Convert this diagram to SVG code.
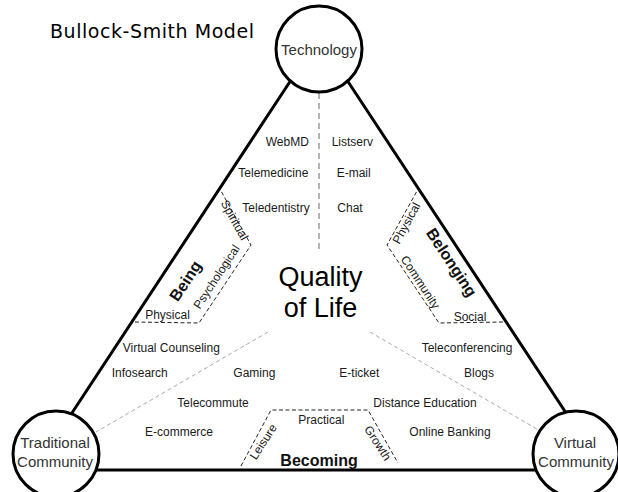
<svg xmlns="http://www.w3.org/2000/svg" width="618" height="492" viewBox="0 0 618 492">
<style>
.side{stroke:#000;stroke-width:3;fill:none;stroke-linecap:round}
.grey{stroke:#a8a8a8;stroke-width:1;fill:none;stroke-dasharray:4 3}
.vgrey{stroke:#b4b4b4;stroke-width:2;fill:none;stroke-dasharray:6 4}
.dom{stroke:#222;stroke-width:1;fill:none;stroke-dasharray:4 2.5}
.node{fill:#fff;stroke:#000;stroke-width:3}
.nt{font-family:"Liberation Sans",Arial,sans-serif;font-size:15px;fill:#333;text-anchor:middle}
.lb{font-family:"Liberation Sans",Arial,sans-serif;font-size:12px;fill:#1a1a1a}
.sub{font-family:"Liberation Sans",Arial,sans-serif;font-size:12px;fill:#1a1a1a;text-anchor:middle}
.dm{font-family:"Liberation Sans",Arial,sans-serif;font-size:16px;font-weight:bold;fill:#111;text-anchor:middle}
.ql{font-family:"Liberation Sans",Arial,sans-serif;font-size:27px;fill:#000;text-anchor:middle}
</style>
<rect width="618" height="492" fill="#fff"/>
<text x="50" y="38" font-family="DejaVu Sans,Verdana,sans-serif" font-size="19" textLength="204" fill="#000">Bullock-Smith Model</text>
<g id="connectors">
<line class="side" x1="295" y1="74" x2="66" y2="422"/>
<line class="side" x1="343" y1="74" x2="572" y2="422"/>
<line class="side" x1="80" y1="470" x2="556" y2="470" stroke-width="3.5"/>
<line class="vgrey" x1="319" y1="93" x2="319" y2="250"/>
<line class="grey" x1="268" y1="332" x2="96" y2="432"/>
<line class="grey" x1="370" y1="332" x2="542" y2="432"/>
</g>
<g id="domain-being">
<polyline class="dom" points="135,322 199,323 251,245 221,191"/>
<text class="dm" transform="translate(190,284) rotate(-56.7)">Being</text>
<text class="sub" transform="translate(167.5,319)">Physical</text>
<text class="sub" transform="translate(220,279) rotate(-56.7)">Psychological</text>
<text class="sub" transform="translate(231,222) rotate(61)">Spiritual</text>
</g>
<g id="domain-belonging">
<polyline class="dom" points="503,322 439,323 387,245 417,191"/>
<text class="dm" transform="translate(447,265.5) rotate(56.7)">Belonging</text>
<text class="sub" transform="translate(470,321)">Social</text>
<text class="sub" transform="translate(417,284.4) rotate(56.7)">Community</text>
<text class="sub" transform="translate(410,225) rotate(-61.5)">Physical</text>
</g>
<g id="domain-becoming">
<polyline class="dom" points="241,466 271,410 368,410 398,463"/>
<text class="dm" x="319" y="466">Becoming</text>
<text class="sub" x="321.3" y="423.5">Practical</text>
<text class="sub" transform="translate(266.6,444) rotate(-57)">Leisure</text>
<text class="sub" transform="translate(374.4,445.3) rotate(57)">Growth</text>
</g>
<g id="quality-of-life">
<text class="ql" x="320.5" y="286">Quality</text>
<text class="ql" x="320.5" y="317">of Life</text>
</g>
<g id="applications">
<text class="lb" x="265.7" y="146">WebMD</text>
<text class="lb" x="331.7" y="146">Listserv</text>
<text class="lb" x="238.3" y="177">Telemedicine</text>
<text class="lb" x="336.7" y="177">E-mail</text>
<text class="lb" x="242.3" y="212">Teledentistry</text>
<text class="lb" x="337.3" y="212">Chat</text>
<text class="lb" x="122.7" y="352">Virtual Counseling</text>
<text class="lb" x="421.7" y="352">Teleconferencing</text>
<text class="lb" x="111.7" y="377">Infosearch</text>
<text class="lb" x="233.3" y="377">Gaming</text>
<text class="lb" x="339.3" y="377">E-ticket</text>
<text class="lb" x="464" y="377">Blogs</text>
<text class="lb" x="177.3" y="407">Telecommute</text>
<text class="lb" x="373.3" y="407">Distance Education</text>
<text class="lb" x="145" y="436">E-commerce</text>
<text class="lb" x="409.3" y="436">Online Banking</text>
</g>
<g id="technology">
<circle class="node" cx="319" cy="49" r="43"/>
<text class="nt" x="319" y="55" font-size="16">Technology</text>
</g>
<g id="traditional-community">
<circle class="node" cx="56" cy="454" r="43"/>
<text class="nt" x="55" y="448">Traditional</text>
<text class="nt" x="55" y="467">Community</text>
</g>
<g id="virtual-community">
<circle class="node" cx="576" cy="454" r="43"/>
<text class="nt" x="575" y="448">Virtual</text>
<text class="nt" x="576" y="467">Community</text>
</g>
</svg>
